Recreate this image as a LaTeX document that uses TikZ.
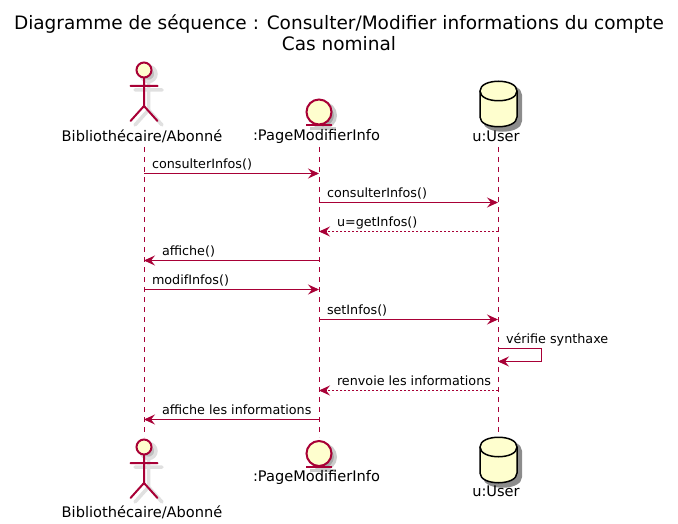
\documentclass[tikz,border=0pt]{standalone}
\usepackage{fontspec}
\setmainfont{DejaVu Sans}
\usepackage{tikz}
\usetikzlibrary{arrows.meta}
\definecolor{seqline}{HTML}{A80036}
\definecolor{seqfill}{HTML}{FEFECE}
\tikzset{>={Stealth[length=11pt,width=10pt,inset=4pt]}}
\tikzset{
  personfig/.pic={
    \path[pic actions, fill=none, line cap=round, line join=round]
      (0,8) -- (0,36) (-13.5,16) -- (13.5,16)
      (-13.5,51) -- (0,36) -- (13.5,51);
    \path[pic actions] (0,0) circle (7.5);
  },
  circlefig/.pic={
    \path[pic actions] (0,0) circle (12.5);
    \path[pic actions, fill=none] (-13,13.5) -- (13,13.5);
  },
  drumfig/.pic={
    \path[pic actions] (-18.5,-13) .. controls (-18.5,-26) and (18.5,-26) .. (18.5,-13)
      -- (18.5,13) .. controls (18.5,26) and (-18.5,26) .. (-18.5,13) -- cycle;
    \path[pic actions, fill=none] (-18.5,-13) .. controls (-18.5,0) and (18.5,0) .. (18.5,-13);
  }
}
\begin{document}
\begin{tikzpicture}[
    x=1pt, y=-1pt,
    every node/.style = {inner sep=0pt, outer sep=0pt, text=black},
    who/.style = {font=\fontsize{14.6}{16}\selectfont, anchor=center},
    msg/.style = {font=\fontsize{12.75}{15}\selectfont, anchor=base west},
    call/.style = {seqline, line width=1pt, ->},
    back/.style = {seqline, line width=1pt, ->, dash pattern=on 2pt off 2pt},
    life/.style = {seqline, line width=1pt, dash pattern=on 5pt off 5pt}
  ]
  \useasboundingbox (0,0) rectangle (678,524);

  \node[font=\fontsize{18.5}{21}\selectfont, align=center] (titre) at (339,33)
    {Diagramme de séquence : Consulter/Modifier informations du compte\\Cas nominal};

  % lignes de vie
  \coordinate (a0) at (144,147);
  \coordinate (b0) at (319,147);
  \coordinate (c0) at (498,147);
  \coordinate (az) at (144,437);
  \coordinate (bz) at (319,437);
  \coordinate (cz) at (498,437);
  \draw[life] (a0) -- (az);
  \draw[life] (b0) -- (bz);
  \draw[life] (c0) -- (cz);

  % figures
  \foreach \y/\yb/\yc in {70/112/104, 447/453.5/460} {
    \pic[draw=black!12, fill=black!25, line width=3.5pt] at (148.5,\y+4) {personfig};
    \pic[draw=seqline, fill=seqfill, line width=2pt] at (144,\y) {personfig};
    \pic[draw=black!20, fill=black!35, line width=3pt] at (323,\yb+3.5) {circlefig};
    \pic[draw=seqline, fill=seqfill, line width=2pt] at (319,\yb) {circlefig};
    \pic[draw=black!45, fill=black!45, line width=2pt] at (502.5,\yc+4) {drumfig};
    \pic[draw=black, fill=seqfill, line width=1.5pt] at (498.5,\yc) {drumfig};
  }

  % noms
  \node[who] (nomA) at (142,136) {Bibliothécaire/Abonné};
  \node[who] (nomB) at (316.5,136) {:PageModifierInfo};
  \node[who] (nomC) at (496,136) {u:User};
  \node[who] (nomAbas) at (142,512) {Bibliothécaire/Abonné};
  \node[who] (nomBbas) at (316.5,477) {:PageModifierInfo};
  \node[who] (nomCbas) at (496,491) {u:User};

  % points des messages
  \foreach \y [count=\j] in {173.5,202.5,231.5,260.5,289.5,319.5,348.5,390.5,419.5} {
    \coordinate (a\j) at (144,\y);
    \coordinate (b\j) at (319,\y);
    \coordinate (c\j) at (498,\y);
  }
  \coordinate (boucleH) at (541,348.5);
  \coordinate (boucleB) at (541,361.5);
  \coordinate (retour) at (498,361.5);

  \draw[call] (a1) -- (b1);
  \draw[call] (b2) -- (c2);
  \draw[back] (c3) -- (b3);
  \draw[call] (b4) -- (a4);
  \draw[call] (a5) -- (b5);
  \draw[call] (b6) -- (c6);
  \draw[call] (c7) -- (boucleH) -- (boucleB) -- (retour);
  \draw[back] (c8) -- (b8);
  \draw[call] (b9) -- (a9);

  \node[msg] (m1) at (152,168.5) {consulterInfos()};
  \node[msg] (m2) at (327,197.5) {consulterInfos()};
  \node[msg] (m3) at (337,226.5) {u=getInfos()};
  \node[msg] (m4) at (162,255.5) {affiche()};
  \node[msg] (m5) at (152,284.5) {modifInfos()};
  \node[msg] (m6) at (327,314.5) {setInfos()};
  \node[msg] (m7) at (506,343.5) {vérifie synthaxe};
  \node[msg] (m8) at (337,385.5) {renvoie les informations};
  \node[msg] (m9) at (162,414.5) {affiche les informations};
\end{tikzpicture}
\end{document}
